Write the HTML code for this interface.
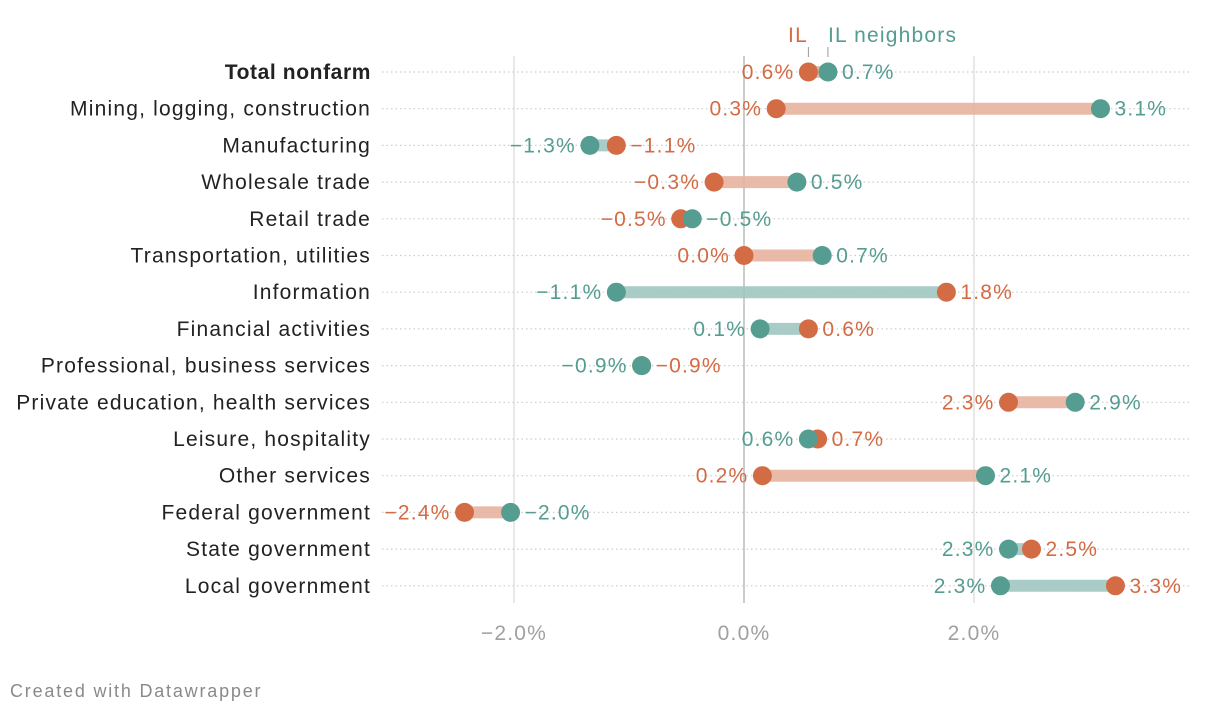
<!DOCTYPE html>
<html><head><meta charset="utf-8">
<style>
body{margin:0;background:#fff;width:1220px;height:714px;overflow:hidden;font-family:"Liberation Sans",sans-serif}
svg text{font-family:"Liberation Sans",sans-serif;letter-spacing:1.2px}
</style></head>
<body>
<svg id="chart" width="1220" height="714" xmlns="http://www.w3.org/2000/svg">
<g id="grid"></g><g id="rows"></g>
<text x="10" y="697" font-size="18" fill="#8a8a8a" style="letter-spacing:1.8px">Created with Datawrapper</text>
</svg>
<script>
const categories=["Total nonfarm","Mining, logging, construction","Manufacturing","Wholesale trade","Retail trade","Transportation, utilities","Information","Financial activities","Professional, business services","Private education, health services","Leisure, hospitality","Other services","Federal government","State government","Local government"];
const ilValues=[0.56,0.28,-1.11,-0.26,-0.55,0.0,1.76,0.56,-0.89,2.30,0.64,0.16,-2.43,2.50,3.23];
const ilLabels=["0.6%","0.3%","−1.1%","−0.3%","−0.5%","0.0%","1.8%","0.6%","−0.9%","2.3%","0.7%","0.2%","−2.4%","2.5%","3.3%"];
const nbValues=[0.73,3.10,-1.34,0.46,-0.45,0.68,-1.11,0.14,-0.89,2.88,0.56,2.10,-2.03,2.30,2.23];
const nbLabels=["0.7%","3.1%","−1.3%","0.5%","−0.5%","0.7%","−1.1%","0.1%","−0.9%","2.9%","0.6%","2.1%","−2.0%","2.3%","2.3%"];
const ticks=[-2,0,2];
const tickLabels=["−2.0%","0.0%","2.0%"];
const OR="#d36b45",TE="#559c91",ORL="#e8b3a0",TEL="#a0c7c1";
const x=v=>744+v*115;
const y=i=>72+i*36.7;
const NS="http://www.w3.org/2000/svg";
function mk(t,a,p){const e=document.createElementNS(NS,t);for(const k in a)e.setAttribute(k,a[k]);p.appendChild(e);return e;}
const grid=document.getElementById('grid'),rows=document.getElementById('rows');
ticks.forEach((t,i)=>{
  const l=mk('line',{x1:x(t),x2:x(t),y1:56,y2:603,stroke:t===0?'#bbb':'#e0e0e0','stroke-width':1.5},grid);
  
  
  const tx=mk('text',{x:x(t),y:640,'font-size':21,fill:'#a0a0a0','text-anchor':'middle'},grid);
  tx.textContent=tickLabels[i];
  
  
});
const lg1=mk('text',{x:798,y:42,'font-size':21,fill:OR,'text-anchor':'middle'},grid);lg1.textContent="IL";


const lg2=mk('text',{x:828,y:42,'font-size':21,fill:TE},grid);lg2.textContent="IL neighbors";


mk('line',{x1:x(ilValues[0]),x2:x(ilValues[0]),y1:47,y2:57,stroke:'#999','stroke-width':1},grid);
mk('line',{x1:x(nbValues[0]),x2:x(nbValues[0]),y1:47,y2:57,stroke:'#999','stroke-width':1},grid);
categories.forEach((c,i)=>{
  const g=mk('g',{},rows);
  
  
  const yy=y(i);
  const lab=mk('text',{x:371,y:yy+7,'font-size':21,fill:'#222','text-anchor':'end','font-weight':i===0?'bold':'normal'},g);
  lab.textContent=c;
  
  
  if(i===0) lab.style.letterSpacing='0.6px';
  mk('line',{x1:382,x2:1190,y1:yy,y2:yy,stroke:'#ccc','stroke-width':1.2,'stroke-dasharray':'1.5,3'},g);
  const a=ilValues[i],b=nbValues[i];
  const ilLeft=a<=b;
  const bar=mk('line',{x1:x(Math.min(a,b)),x2:x(Math.max(a,b)),y1:yy,y2:yy,stroke:ilLeft?ORL:TEL,'stroke-width':12,'stroke-opacity':0.9},g);
  
  
  const d1=mk('circle',{cx:x(a),cy:yy,r:9.5,fill:OR},g);
  
  
  const d2=mk('circle',{cx:x(b),cy:yy,r:9.5,fill:TE},g);
  
  
  const lo=Math.min(a,b),hi=Math.max(a,b);
  const t1=mk('text',{'font-size':21,fill:OR,y:yy+7},g);
  t1.textContent=ilLabels[i];
  
  
  const t2=mk('text',{'font-size':21,fill:TE,y:yy+7},g);
  t2.textContent=nbLabels[i];
  
  
  const L=a<b?t1:t2, R=L===t1?t2:t1;
  L.setAttribute('x',x(lo)-14);L.setAttribute('text-anchor','end');
  R.setAttribute('x',x(hi)+14);R.setAttribute('text-anchor','start');
});
</script>
</body></html>
